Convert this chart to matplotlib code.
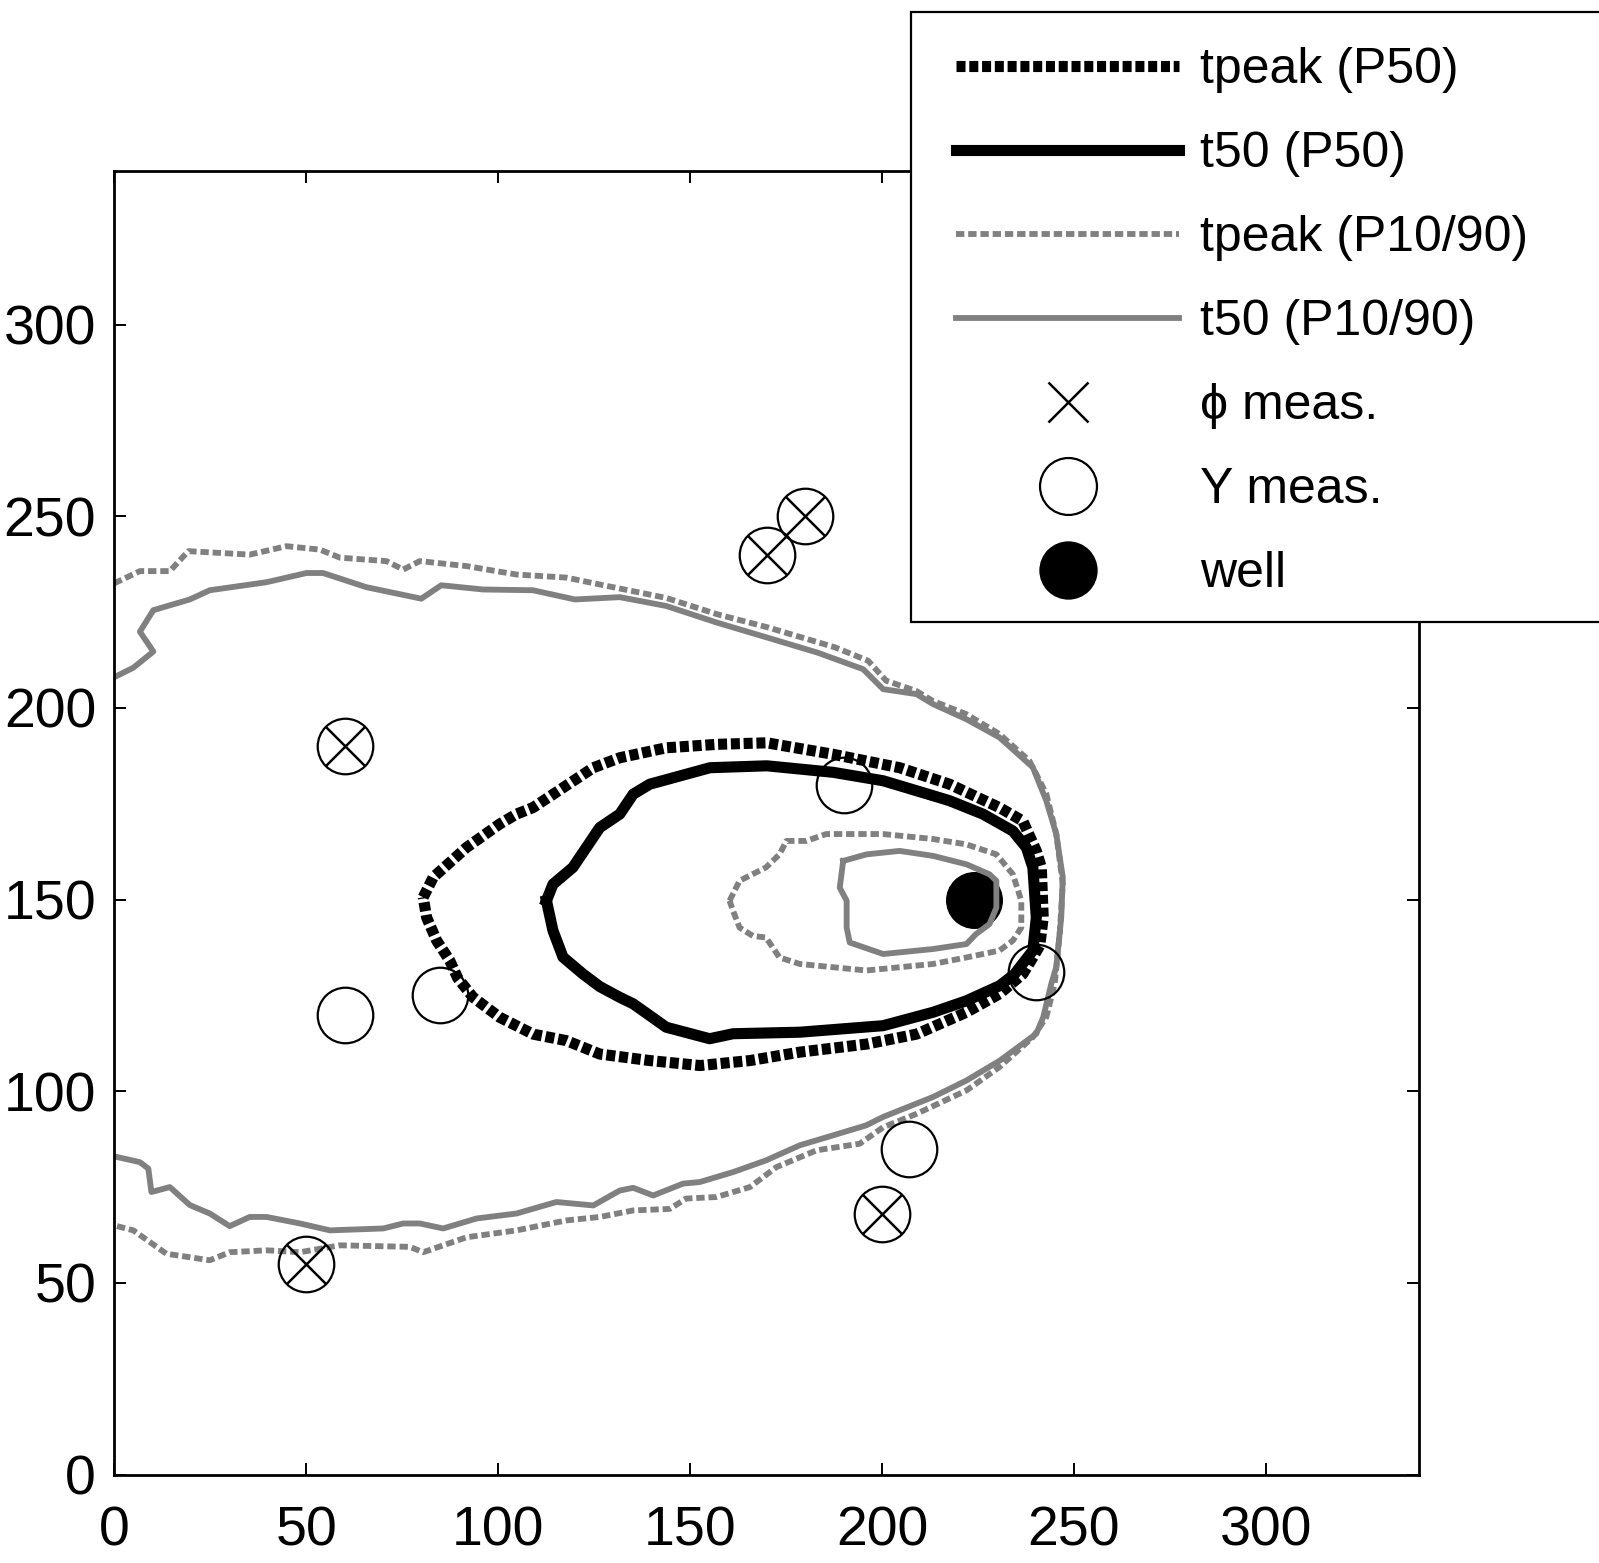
import matplotlib
matplotlib.use("Agg")
import matplotlib.pyplot as plt
from matplotlib.lines import Line2D
from matplotlib.patches import Rectangle

plt.rcParams['font.family'] = ['Liberation Sans', 'DejaVu Sans']
plt.rcParams['lines.scale_dashes'] = False

# contour traces (x, y in grid units)
tpeak_p50_x = [80.5, 83.1, 91.8, 100.4, 104.8, 109.1, 124.8, 131.7, 143.8, 157.0, 170.0, 187.3, 204.6,
               217.6, 230.6, 236.7, 240.2, 241.5, 242.0, 241.1, 239.3, 236.7, 230.6, 222.0, 209.0, 196.0,
               178.6, 165.6, 152.6, 139.5, 126.5, 117.8, 109.1, 100.4, 93.5, 89.5, 87.4, 84.0, 81.4, 80.5]
tpeak_p50_y = [150.6, 155.8, 163.6, 169.7, 172.3, 174.0, 184.4, 187.0, 189.6, 190.5, 190.9, 187.9, 184.4,
               180.1, 174.0, 170.5, 162.7, 158.4, 145.3, 138.0, 134.9, 130.6, 125.4, 120.6, 114.9, 112.3,
               110.2, 108.0, 106.7, 108.0, 109.7, 113.2, 114.9, 119.3, 124.5, 129.5, 134.1, 139.3, 145.3, 150.6]

t50_p50_x = [112.6, 114.3, 119.5, 123.0, 126.5, 131.7, 135.2, 139.5, 155.2, 170.0, 187.3, 200.3, 209.0,
             217.6, 226.3, 234.1, 237.6, 239.3, 240.2, 239.3, 234.5, 230.6, 222.0, 213.3, 200.3, 178.6,
             161.2, 155.1, 143.8, 135.2, 131.7, 126.5, 122.1, 116.9, 114.3, 112.6]
t50_p50_y = [149.7, 154.0, 158.4, 163.6, 168.8, 172.3, 177.5, 180.1, 184.4, 184.9, 183.2, 181.0, 178.4,
             175.8, 172.3, 167.9, 163.6, 158.4, 145.3, 136.7, 130.5, 127.5, 123.6, 120.6, 117.1, 115.4,
             115.0, 113.7, 116.7, 122.8, 124.5, 127.3, 130.6, 135.0, 141.9, 149.7]

tpeak_p1090_outer_x = [0.0, 6.7, 14.5, 19.3, 35.3, 44.9, 53.6, 58.8, 70.9, 75.3, 79.6, 91.8, 104.8, 117.8,
                       126.5, 143.8, 157.2, 170.3, 187.8, 196.4, 201.1, 209.0, 213.3, 221.9, 230.6, 238.4,
                       242.8, 245.4, 247.1, 246.3, 245.0, 242.8, 239.3, 230.6, 222.0, 209.0, 200.3, 194.2,
                       183.0, 172.5, 165.6, 156.9, 149.0, 144.7, 135.2, 126.5, 117.8, 104.8, 91.8, 80.5,
                       77.0, 58.8, 48.4, 39.7, 30.1, 24.9, 13.6, 5.0, 0.0]
tpeak_p1090_outer_y = [232.5, 235.7, 235.7, 240.9, 240.0, 242.2, 241.3, 239.2, 238.3, 236.1, 238.3, 237.0,
                       234.8, 234.0, 232.2, 228.7, 224.4, 221.0, 215.8, 212.3, 207.1, 204.4, 201.8, 198.4,
                       193.2, 186.2, 177.6, 167.1, 154.1, 141.1, 128.1, 119.3, 114.1, 106.3, 100.2, 94.1,
                       90.6, 86.3, 84.6, 80.2, 75.0, 72.4, 72.0, 69.3, 68.9, 67.2, 66.3, 63.7, 61.9, 58.0,
                       59.4, 59.8, 58.0, 58.5, 58.0, 55.9, 57.6, 63.7, 65.0]

tpeak_p1090_inner_x = [160.3, 162.9, 169.8, 173.3, 175.1, 180.3, 185.5, 200.3, 213.3, 222.0, 229.8, 234.1,
                       236.3, 236.3, 234.1, 230.6, 222.0, 213.3, 195.9, 178.6, 173.3, 169.8, 166.4, 162.9,
                       161.2, 160.3]
tpeak_p1090_inner_y = [149.7, 154.9, 158.4, 161.8, 165.3, 165.3, 167.1, 167.1, 165.8, 164.4, 161.8, 156.6,
                       149.7, 142.7, 139.3, 136.7, 134.9, 133.2, 131.5, 133.2, 134.9, 140.1, 140.5, 142.7,
                       147.1, 149.7]

t50_p1090_outer_x = [0.0, 5.0, 10.2, 6.7, 10.2, 19.7, 24.9, 39.7, 50.1, 54.4, 65.7, 80.0, 85.2, 96.1, 109.1,
                     120.0, 131.7, 143.8, 157.2, 170.3, 183.3, 195.1, 200.3, 209.0, 213.3, 221.9, 230.6,
                     239.3, 242.8, 245.4, 247.1, 246.7, 245.4, 244.1, 242.0, 240.2, 230.7, 222.0, 213.3,
                     200.3, 195.9, 187.3, 178.6, 169.9, 161.2, 152.5, 148.2, 140.4, 135.2, 131.7, 124.8,
                     115.2, 104.8, 94.4, 85.7, 79.6, 75.3, 70.1, 56.2, 48.4, 39.7, 35.3, 30.1, 24.9, 19.7,
                     14.5, 9.7, 8.9, 6.7, 0.0]
t50_p1090_outer_y = [208.0, 210.5, 214.7, 219.9, 225.5, 228.3, 230.7, 232.8, 235.2, 235.2, 231.5, 228.5,
                     232.0, 230.9, 230.7, 228.3, 228.9, 226.6, 222.2, 218.3, 214.4, 210.1, 204.9, 203.6,
                     201.0, 197.1, 192.3, 184.5, 175.8, 167.1, 155.8, 145.4, 132.4, 128.0, 119.3, 115.0,
                     108.0, 102.8, 98.5, 93.3, 91.1, 88.5, 85.9, 82.0, 78.9, 76.3, 75.9, 72.8, 74.8, 74.1,
                     70.2, 71.1, 68.1, 66.8, 64.2, 65.5, 65.5, 64.2, 63.7, 65.5, 67.2, 67.2, 64.8, 68.1,
                     70.3, 75.0, 73.7, 79.8, 81.5, 83.0]

t50_p1090_inner_x = [189.9, 196.0, 204.6, 213.3, 222.0, 228.0, 229.8, 229.8, 228.0, 224.5, 222.0, 213.3,
                     200.3, 191.6, 190.8, 190.8, 189.0, 189.9]
t50_p1090_inner_y = [160.1, 161.8, 162.7, 161.4, 159.2, 156.6, 154.9, 147.9, 143.6, 141.0, 138.4, 137.1,
                     135.8, 138.8, 142.7, 149.7, 153.1, 160.1]

# measurement points
phi_x = [60, 170, 180, 50, 200]
phi_y = [190, 240, 250, 55, 68]
ymeas_x = [60, 170, 180, 50, 200, 60, 85, 190, 207, 240]
ymeas_y = [190, 240, 250, 55, 68, 120, 125, 180, 85, 131]
well_x = [224]
well_y = [150]

grey = '#808080'
fig = plt.figure(figsize=(15.99, 15.63), dpi=100)
ax = fig.add_axes([0.0714, 0.0566, 0.8163, 0.8338])

ax.plot(well_x, well_y, 'o', color='black', markersize=40, zorder=1)

ax.plot(t50_p1090_outer_x, t50_p1090_outer_y, '-', color=grey, lw=4.2, zorder=2)
ax.plot(t50_p1090_inner_x, t50_p1090_inner_y, '-', color=grey, lw=4.2, zorder=2)
ax.plot(tpeak_p1090_outer_x, tpeak_p1090_outer_y, color=grey, lw=4.2, dashes=(6.0, 2.8),
        dash_capstyle='butt', zorder=2)
ax.plot(tpeak_p1090_inner_x, tpeak_p1090_inner_y, color=grey, lw=4.2, dashes=(6.0, 2.8),
        dash_capstyle='butt', zorder=2)
ax.plot(t50_p50_x, t50_p50_y, '-', color='black', lw=8, zorder=3)
ax.plot(tpeak_p50_x, tpeak_p50_y, color='black', lw=8, dashes=(6.5, 2.7),
        dash_capstyle='butt', zorder=3)

ax.plot(ymeas_x, ymeas_y, 'o', mfc='none', mec='black', mew=1.6, markersize=40, zorder=4)
ax.plot(phi_x, phi_y, 'x', color='black', mew=1.8, markersize=29, zorder=4)

ax.set_xlim(0, 340)
ax.set_ylim(0, 340)
ax.set_xticks([0, 50, 100, 150, 200, 250, 300])
ax.set_yticks([0, 50, 100, 150, 200, 250, 300])
ax.tick_params(direction='in', length=8.6, width=1.4, labelsize=40, top=True, right=True)
ax.tick_params(axis='y', pad=13)
ax.tick_params(axis='x', pad=22)
for s in ax.spines.values():
    s.set_linewidth(2)

# legend box sticks out past the right edge
frame = Rectangle((910.6 / 1599, 1 - 622 / 1563), 0.5, (622 - 12.2) / 1563, transform=fig.transFigure,
                  facecolor='white', edgecolor='black', lw=1.6, zorder=5)
fig.patches.append(frame)

handles = [
    Line2D([], [], color='black', lw=8, dashes=(6.5, 2.7), dash_capstyle='butt'),
    Line2D([], [], color='black', lw=8),
    Line2D([], [], color=grey, lw=4.2, dashes=(6.0, 2.8), dash_capstyle='butt'),
    Line2D([], [], color=grey, lw=4.2),
    Line2D([], [], ls='none', marker='x', color='black', mew=1.8, markersize=29),
    Line2D([], [], ls='none', marker='o', mfc='none', mec='black', mew=1.6, markersize=41),
    Line2D([], [], ls='none', marker='o', color='black', markersize=41),
]
labels = ['tpeak (P50)', 't50 (P50)', 'tpeak (P10/90)', 't50 (P10/90)', '\u03d5 meas.', 'Y meas.', 'well']
leg = fig.legend(handles, labels, loc='upper left', bbox_to_anchor=(956 / 1599, 1 - 47 / 1563),
                 frameon=False, fontsize=36, handlelength=4.46, handletextpad=0.42,
                 labelspacing=0.76, borderpad=0, borderaxespad=0)
leg.set_zorder(6)

fig.savefig('out.png', dpi=100)
